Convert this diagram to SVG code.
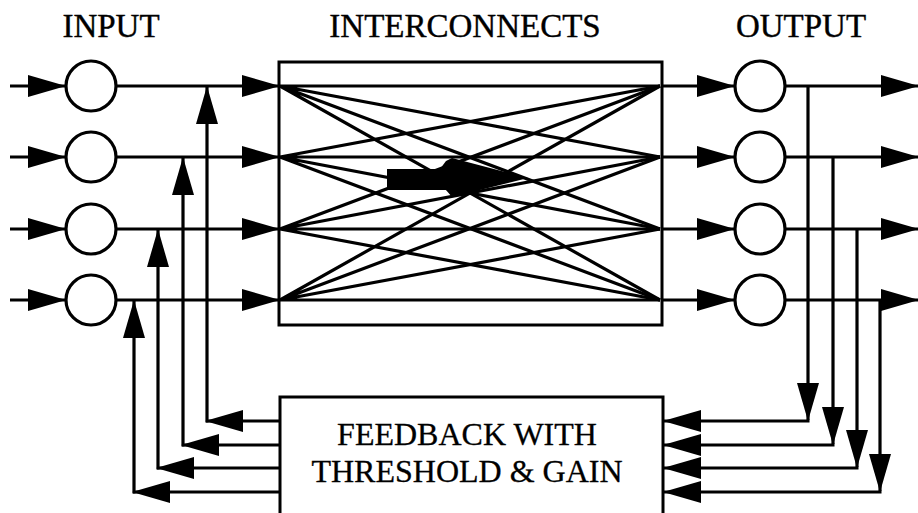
<svg xmlns="http://www.w3.org/2000/svg" width="918" height="513" viewBox="0 0 918 513">
  <style>
    .ln { stroke: #000; stroke-width: 3.2; fill: none; }
    .arr { marker-end: url(#ah); }
    .node { fill: #fff; stroke: #000; stroke-width: 3.2; }
    .lbl { font-family: "Liberation Serif", "Times New Roman", serif; font-size: 33px; fill: #000; stroke: #000; stroke-width: 0.4; text-anchor: middle; }
    .blbl { font-family: "Liberation Serif", "Times New Roman", serif; font-size: 32px; fill: #000; stroke: #000; stroke-width: 0.3; text-anchor: middle; }
  </style>
  <defs>
    <marker id="ah" markerUnits="userSpaceOnUse" viewBox="0 0 38 22" markerWidth="38" markerHeight="22" refX="37" refY="11" orient="auto">
      <path d="M0,0 L38,11 L0,22 z" fill="#000"/>
    </marker>
  </defs>
  <rect width="918" height="513" fill="#fff"/>

  <!-- column headings -->
  <text class="lbl" x="111" y="37">INPUT</text>
  <text class="lbl" x="465" y="37">INTERCONNECTS</text>
  <text class="lbl" x="801" y="37">OUTPUT</text>

  <!-- connectors -->
  <g id="connectors">
    <!-- incoming signals -->
    <line class="ln arr" x1="10" y1="86" x2="65" y2="86"/>
    <line class="ln arr" x1="10" y1="157" x2="65" y2="157"/>
    <line class="ln arr" x1="10" y1="229" x2="65" y2="229"/>
    <line class="ln arr" x1="10" y1="300" x2="65" y2="300"/>
    <!-- input to interconnects -->
    <line class="ln arr" x1="116" y1="86" x2="279" y2="86"/>
    <line class="ln arr" x1="116" y1="157" x2="279" y2="157"/>
    <line class="ln arr" x1="116" y1="229" x2="279" y2="229"/>
    <line class="ln arr" x1="116" y1="300" x2="279" y2="300"/>
    <!-- interconnects to output -->
    <line class="ln arr" x1="662" y1="86" x2="734" y2="86"/>
    <line class="ln arr" x1="662" y1="157" x2="734" y2="157"/>
    <line class="ln arr" x1="662" y1="229" x2="734" y2="229"/>
    <line class="ln arr" x1="662" y1="300" x2="734" y2="300"/>
    <!-- outgoing signals -->
    <line class="ln arr" x1="785" y1="86" x2="918" y2="86"/>
    <line class="ln arr" x1="785" y1="157" x2="918" y2="157"/>
    <line class="ln arr" x1="785" y1="229" x2="918" y2="229"/>
    <line class="ln arr" x1="785" y1="300" x2="918" y2="300"/>
    <!-- output taps down to feedback -->
    <line class="ln arr" x1="808" y1="86" x2="808" y2="420"/>
    <line class="ln arr" x1="833" y1="157" x2="833" y2="444"/>
    <line class="ln arr" x1="857" y1="229" x2="857" y2="467"/>
    <line class="ln arr" x1="880" y1="300" x2="880" y2="491"/>
    <line class="ln arr" x1="809.5" y1="421" x2="664" y2="421"/>
    <line class="ln arr" x1="834.5" y1="445" x2="664" y2="445"/>
    <line class="ln arr" x1="858.5" y1="468" x2="664" y2="468"/>
    <line class="ln arr" x1="881.5" y1="492" x2="664" y2="492"/>
    <!-- feedback back to inputs -->
    <line class="ln arr" x1="280" y1="421" x2="206" y2="421"/>
    <line class="ln arr" x1="280" y1="445" x2="182" y2="445"/>
    <line class="ln arr" x1="280" y1="468" x2="157" y2="468"/>
    <line class="ln arr" x1="280" y1="492" x2="133" y2="492"/>
    <line class="ln arr" x1="207" y1="422.5" x2="207" y2="87"/>
    <line class="ln arr" x1="183" y1="446.5" x2="183" y2="158"/>
    <line class="ln arr" x1="158" y1="469.5" x2="158" y2="230"/>
    <line class="ln arr" x1="134" y1="493.5" x2="134" y2="301"/>
  </g>

  <!-- input neurons -->
  <g id="input-1"><circle class="node" cx="91" cy="86" r="25"/></g>
  <g id="input-2"><circle class="node" cx="91" cy="157" r="25"/></g>
  <g id="input-3"><circle class="node" cx="91" cy="229" r="25"/></g>
  <g id="input-4"><circle class="node" cx="91" cy="300" r="25"/></g>

  <!-- full crossbar of interconnects -->
  <g id="interconnects">
    <rect x="279" y="62" width="383" height="263" fill="none" stroke="#000" stroke-width="3"/>
    <g class="ln" stroke-width="3.6">
      <path d="M280,86 L660,86 M280,86 L660,157 M280,86 L660,229 M280,86 L660,300"/>
      <path d="M280,157 L660,86 M280,157 L660,157 M280,157 L660,229 M280,157 L660,300"/>
      <path d="M280,229 L660,86 M280,229 L660,157 M280,229 L660,229 M280,229 L660,300"/>
      <path d="M280,300 L660,86 M280,300 L660,157 M280,300 L660,229 M280,300 L660,300"/>
    </g>
    <polygon points="387,169 440,169 446,161 452,158 528,178 452,197 446,190 387,190" fill="#000"/>
  </g>

  <!-- output neurons -->
  <g id="output-1"><circle class="node" cx="760" cy="86" r="25"/></g>
  <g id="output-2"><circle class="node" cx="760" cy="157" r="25"/></g>
  <g id="output-3"><circle class="node" cx="760" cy="229" r="25"/></g>
  <g id="output-4"><circle class="node" cx="760" cy="300" r="25"/></g>

  <!-- feedback stage -->
  <g id="feedback">
    <rect x="280" y="397" width="383" height="130" fill="#fff" stroke="#000" stroke-width="3"/>
    <text class="blbl" x="467" y="445">FEEDBACK WITH</text>
    <text class="blbl" x="467" y="482">THRESHOLD &amp; GAIN</text>
  </g>
</svg>
